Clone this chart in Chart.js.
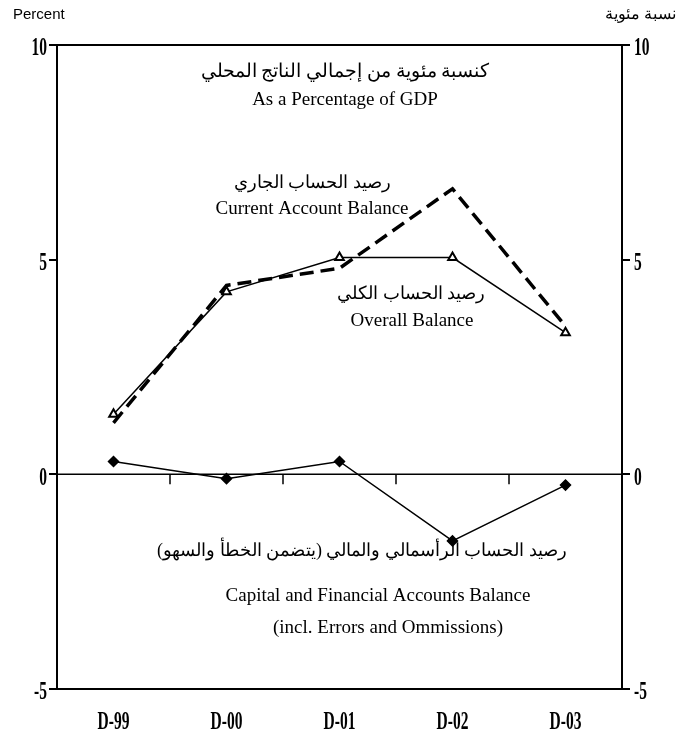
<!DOCTYPE html>
<html>
<head>
<meta charset="utf-8">
<script src="https://cdn.jsdelivr.net/npm/chart.js@4"></script>
<style>
html,body{margin:0;padding:0;background:#fff;}
#wrap{position:relative;width:684px;height:753px;}
</style>
</head>
<body>
<div id="wrap"><canvas id="c" width="684" height="753"></canvas></div>
<script>
const categories = ["D-99", "D-00", "D-01", "D-02", "D-03"];
const currentAccount = [1.2, 4.4, 4.8, 6.65, 3.45];
const overallBalance = [1.4, 4.25, 5.05, 5.05, 3.3];
const capitalFinancial = [0.3, -0.1, 0.3, -1.55, -0.25];
const yTicks = [-5, 0, 5, 10];

const tickFont = {family: "'Liberation Serif', serif", size: 21, weight: 'bold'};
const serif = "'Liberation Serif', 'DejaVu Serif', serif";
const condensedFont = "bold 25px 'Liberation Serif', serif";
const condense = 0.62;

const texts = [
  {t: "Percent", x: 13, y: 15, align: 'left', font: "15px 'Liberation Sans', Arial, sans-serif"},
  {t: "نسبة مئوية", x: 676, y: 15, align: 'right', font: "16px " + serif},
  {t: "كنسبة مئوية من إجمالي الناتج المحلي", x: 345, y: 72, align: 'center', font: "19px " + serif},
  {t: "As a Percentage of GDP", x: 345, y: 100, align: 'center', font: "19px " + serif},
  {t: "رصيد الحساب الجاري", x: 312, y: 183, align: 'center', font: "18px " + serif},
  {t: "Current Account Balance", x: 312, y: 209, align: 'center', font: "19px " + serif},
  {t: "رصيد الحساب الكلي", x: 411, y: 294, align: 'center', font: "18px " + serif},
  {t: "Overall Balance", x: 412, y: 321, align: 'center', font: "19px " + serif},
  {t: "رصيد الحساب الرأسمالي والمالي (يتضمن الخطأ والسهو)", x: 362, y: 551, align: 'center', font: "18px " + serif},
  {t: "Capital and Financial Accounts Balance", x: 378, y: 596, align: 'center', font: "19px " + serif},
  {t: "(incl. Errors and Ommissions)", x: 388, y: 628, align: 'center', font: "19px " + serif}
];

function condensedText(ctx, t, x, y, align) {
  ctx.save();
  ctx.font = condensedFont;
  ctx.textAlign = align;
  ctx.textBaseline = 'middle';
  ctx.translate(x, y);
  ctx.scale(condense, 1);
  ctx.fillText(t, 0, 0);
  ctx.restore();
}

const framePlugin = {
  id: 'frame',
  afterDatasetsDraw(chart) {
    const {ctx, chartArea: a, scales} = chart;
    ctx.save();
    ctx.strokeStyle = '#000';
    ctx.lineWidth = 2;
    ctx.strokeRect(a.left, a.top, a.right - a.left, a.bottom - a.top);
    const y0 = scales.y.getPixelForValue(0);
    ctx.lineWidth = 1.5;
    ctx.beginPath();
    ctx.moveTo(a.left, y0); ctx.lineTo(a.right, y0);
    const x = scales.x;
    for (let i = 0; i < categories.length - 1; i++) {
      const xm = (x.getPixelForValue(i) + x.getPixelForValue(i + 1)) / 2;
      ctx.moveTo(xm, y0); ctx.lineTo(xm, y0 + 10);
    }
    ctx.stroke();
    ctx.fillStyle = '#000';
    yTicks.forEach(v => {
      const yp = scales.y.getPixelForValue(v) + 4;
      condensedText(ctx, String(v), a.left - 10, yp, 'right');
      condensedText(ctx, String(v), a.right + 12, yp, 'left');
    });
    categories.forEach((c, i) => {
      condensedText(ctx, c, x.getPixelForValue(i), 723, 'center');
    });
    ctx.textBaseline = 'middle';
    texts.forEach(o => {
      ctx.font = o.font;
      ctx.textAlign = o.align;
      ctx.fillText(o.t, o.x, o.y);
    });
    ctx.restore();
  }
};

const yCommon = {
  min: -5, max: 10,
  afterBuildTicks: s => { s.ticks = yTicks.map(v => ({value: v})); },
  grid: {drawOnChartArea: false, drawTicks: true, tickLength: 8, color: '#000', lineWidth: 2},
  border: {display: true, color: '#000', width: 2},
  ticks: {color: 'rgba(0,0,0,0)', font: tickFont, padding: 3}
};

new Chart(document.getElementById('c'), {
  type: 'line',
  data: {
    labels: categories,
    datasets: [
      {label: 'Current Account Balance', data: currentAccount, borderColor: '#000', borderWidth: 3.5, borderDash: [14, 7], pointRadius: 0, fill: false, tension: 0, yAxisID: 'y'},
      {label: 'Overall Balance', data: overallBalance, borderColor: '#000', borderWidth: 1.5, pointStyle: 'triangle', pointRadius: 5, pointBackgroundColor: '#fff', pointBorderColor: '#000', pointBorderWidth: 2, fill: false, tension: 0, yAxisID: 'y'},
      {label: 'Capital and Financial Accounts Balance', data: capitalFinancial, borderColor: '#000', borderWidth: 1.5, pointStyle: 'rectRot', pointRadius: 5, pointBackgroundColor: '#000', pointBorderColor: '#000', fill: false, tension: 0, yAxisID: 'y'}
    ]
  },
  options: {
    responsive: false,
    animation: false,
    layout: {padding: {top: 45, left: 0, right: 0, bottom: 0}},
    plugins: {legend: {display: false}, tooltip: {enabled: false}},
    scales: {
      x: {
        offset: true,
        grid: {display: false},
        border: {display: false},
        ticks: {color: 'rgba(0,0,0,0)', font: tickFont, padding: 24, maxRotation: 0},
        afterFit: s => { s.height = 64; }
      },
      y: Object.assign({}, yCommon, {position: 'left', afterFit: s => { s.width = 57; }}),
      y2: Object.assign({}, yCommon, {position: 'right', afterFit: s => { s.width = 62; }})
    }
  },
  plugins: [framePlugin]
});
</script>
</body>
</html>
